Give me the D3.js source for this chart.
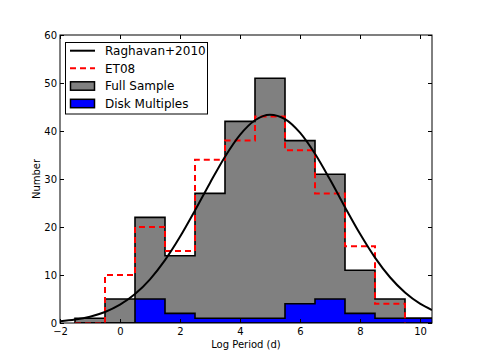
<!DOCTYPE html>
<html><head><meta charset="utf-8">
<script src="https://cdn.jsdelivr.net/npm/d3@7"></script>
<style>body{margin:0;background:#fff}svg{display:block}text{font-family:"DejaVu Sans",sans-serif}</style>
</head><body>
<script>
const binEdges = [-1.5,-0.5,0.5,1.5,2.5,3.5,4.5,5.5,6.5,7.5,8.5,9.5,10.5];
const fullSample = [1,5,22,14,27,42,51,38,31,11,5,1];
const diskMultiples = [0,0,5,2,1,1,1,4,5,2,1,1];
const et08Edges = [-1.5,-0.5,0.5,1.5,2.5,3.5,4.5,5.5,6.5,7.5,8.5,9.5];
const et08 = [0,10,20,15,34,38,43,36,27,16,4];
const raghavanX = [-2,-1.5,-1,-0.5,0,0.5,1,1.5,2,2.5,3,3.5,4,4.5,5,5.5,6,6.5,7,7.5,8,8.5,9,9.5,10,10.4];
const raghavanY = [0.37,0.72,1.32,2.29,3.81,6.03,9.10,13.09,17.95,23.45,29.19,34.65,39.19,42.24,43.40,42.49,39.65,35.25,29.88,24.13,18.58,13.63,9.53,6.35,4.03,2.71];
const xTicks = [-2,0,2,4,6,8,10];
const yTicks = [0,10,20,30,40,50,60];
const legendLabels = ["Raghavan+2010","ET08","Full Sample","Disk Multiples"];

const W=480,H=360, L=60, R=432, T=35, B=323;
const svg=d3.select("body").append("svg").attr("width",W).attr("height",H);
const x=d3.scaleLinear().domain([-2,10.4]).range([L,R]);
const y=d3.scaleLinear().domain([0,60]).range([B,T]);

svg.append("defs").append("clipPath").attr("id","clip")
  .append("rect").attr("x",L).attr("y",T).attr("width",R-L).attr("height",B-T);
const g=svg.append("g").attr("clip-path","url(#clip)");

function stepPts(edges, vals){
  const pts=[[edges[0],0]];
  vals.forEach((v,i)=>{pts.push([edges[i],v]);pts.push([edges[i+1],v]);});
  pts.push([edges[edges.length-1],0]);
  return pts;
}
const line=d3.line().x(d=>x(d[0])).y(d=>y(d[1]));

g.append("path").attr("d",line(stepPts(binEdges,fullSample))+"Z")
  .attr("fill","#808080").attr("stroke","#000").attr("stroke-width",1.6).attr("stroke-linejoin","miter");
g.append("path").attr("d",line(stepPts(binEdges,diskMultiples))+"Z")
  .attr("fill","#0000ff").attr("stroke","#000").attr("stroke-width",1.6);
g.append("path").attr("d",line(stepPts(et08Edges,et08)))
  .attr("fill","none").attr("stroke","#ff0000").attr("stroke-width",2).attr("stroke-dasharray","6,4");
const curve=d3.line().x((d,i)=>x(raghavanX[i])).y(d=>y(d)).curve(d3.curveMonotoneX);
g.append("path").attr("d",curve(raghavanY)).attr("fill","none").attr("stroke","#000").attr("stroke-width",2);

// axes
const axBottom=svg.append("g").attr("transform",`translate(0,${B})`)
  .call(d3.axisBottom(x).tickValues(xTicks).tickSize(-4).tickPadding(5).tickFormat(d=>d<0?"\u2212"+Math.abs(d):d));
const axLeft=svg.append("g").attr("transform",`translate(${L},0)`)
  .call(d3.axisLeft(y).tickValues(yTicks).tickSize(-4).tickPadding(3));
const axTop=svg.append("g").attr("transform",`translate(0,${T})`)
  .call(d3.axisTop(x).tickValues(xTicks).tickSize(-4).tickFormat(""));
const axRight=svg.append("g").attr("transform",`translate(${R},0)`)
  .call(d3.axisRight(y).tickValues(yTicks).tickSize(-4).tickFormat(""));
[axBottom,axLeft,axTop,axRight].forEach(a=>{
  a.select(".domain").remove();
  a.selectAll("text").attr("font-size",10).attr("font-family","DejaVu Sans").attr("fill","#000");
  a.selectAll("line").attr("stroke","#000");
});
svg.append("rect").attr("x",L).attr("y",T).attr("width",R-L).attr("height",B-T)
  .attr("fill","none").attr("stroke","#000").attr("stroke-width",1);

svg.append("text").attr("x",(L+R)/2).attr("y",348).attr("text-anchor","middle")
  .attr("font-size",10).text("Log Period (d)");
svg.append("text").attr("transform",`translate(40,${(T+B)/2}) rotate(-90)`).attr("text-anchor","middle")
  .attr("font-size",10).text("Number");

// legend
const lg=svg.append("g");
lg.append("rect").attr("x",65.5).attr("y",42.5).attr("width",142).attr("height",71.5)
  .attr("fill","#fff").attr("stroke","#000").attr("stroke-width",1);
const rowY=[50.7,68.3,86,103.5];
lg.append("line").attr("x1",70).attr("x2",95).attr("y1",rowY[0]).attr("y2",rowY[0]).attr("stroke","#000").attr("stroke-width",2);
lg.append("line").attr("x1",70).attr("x2",95).attr("y1",rowY[1]).attr("y2",rowY[1]).attr("stroke","#f00").attr("stroke-width",2).attr("stroke-dasharray","6,4");
lg.append("rect").attr("x",70.5).attr("y",rowY[2]-4.2).attr("width",24).attr("height",8.4).attr("fill","#808080").attr("stroke","#000").attr("stroke-width",1.5);
lg.append("rect").attr("x",70.5).attr("y",rowY[3]-4.2).attr("width",24).attr("height",8.4).attr("fill","#0000ff").attr("stroke","#000").attr("stroke-width",1.5);
lg.selectAll("text.lab").data(legendLabels).enter().append("text").attr("class","lab")
  .attr("x",105).attr("y",(d,i)=>rowY[i]).attr("dy","0.36em").attr("font-size",12).text(d=>d);
</script>
</body></html>
